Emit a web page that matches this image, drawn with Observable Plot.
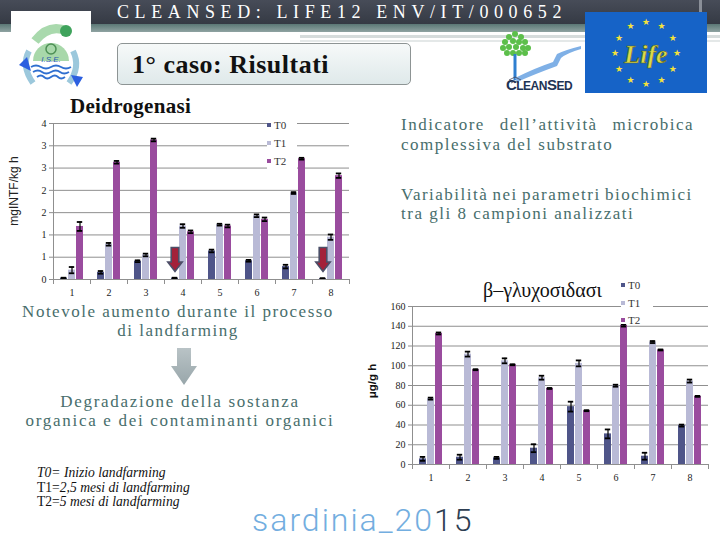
<!DOCTYPE html>
<html><head><meta charset="utf-8">
<script src="https://cdn.jsdelivr.net/npm/d3@7"></script>
<script src="https://cdn.jsdelivr.net/npm/@observablehq/plot@0.6"></script>
<style>
body{margin:0;background:#fff;}
#slide{position:relative;width:720px;height:540px;overflow:hidden;background:#fff;font-family:"Liberation Serif",serif;}
.abs{position:absolute;}
.note{position:absolute;color:#486e6c;font-family:"Liberation Serif",serif;font-size:17px;letter-spacing:1.5px;white-space:nowrap;line-height:19px;}
.leg{position:absolute;background:#fff;font-family:"Liberation Serif",serif;font-size:11px;color:#333;}
.leg div{height:18px;line-height:18px;white-space:nowrap;}
.leg span{display:inline-block;width:4px;height:4px;margin-right:3px;vertical-align:middle;position:relative;top:-1px;}
.rot{position:absolute;transform:translate(-50%,-50%) rotate(-90deg);white-space:nowrap;}
</style></head>
<body><div id="slide">
  <div class="abs" style="left:0;top:0;width:720px;height:24px;background:linear-gradient(#474c58,#353a44);"></div>
  <div class="abs" style="left:0;top:24px;width:720px;height:8px;background:linear-gradient(#5b7876,#8fa3a2);"></div>
  <div class="abs" style="left:300px;top:35px;width:420px;height:3px;background:#d6dcdc;"></div>
  <div class="abs" style="left:300px;top:40px;width:420px;height:2px;background:#e4e8e8;"></div>
  <div class="abs" style="left:699px;top:0;width:3px;height:30px;background:#8a8f98;"></div>
  <div class="abs" style="left:117px;top:1px;color:#fff;font-family:'Liberation Serif',serif;font-size:18px;letter-spacing:5.6px;line-height:22px;white-space:nowrap;">CLEANSED: LIFE12 ENV/IT/000652</div>

  <svg class="abs" style="left:11px;top:11px" width="80" height="80" viewBox="0 0 80 80">
    <rect width="80" height="80" fill="#fff"/>
    <path d="M24 30 Q38 12 56 20" stroke="#a9d9ad" stroke-width="9" fill="none"/>
    <circle cx="55" cy="20" r="6" fill="#3fa35c"/>
    <path d="M22 50 A18 18 0 0 1 58 50 Z" fill="#a8d8aa"/>
    <circle cx="40" cy="38" r="5" fill="none" stroke="#4d8f55" stroke-width="1.5"/>
    <text x="40" y="51" font-size="8" fill="#2a58b0" text-anchor="middle" font-style="italic" font-family="Liberation Sans">I.S.E.</text>
    <path d="M20 56 q5 -3 10 0 t10 0 t10 0 t10 0" stroke="#2f6fd0" fill="none" stroke-width="1.8"/>
    <path d="M22 61 q5 -3 9 0 t9 0 t9 0 t9 0" stroke="#2f6fd0" fill="none" stroke-width="1.8"/>
    <path d="M26 66 q4 -3 7 0 t7 0 t7 0 t7 0" stroke="#2f6fd0" fill="none" stroke-width="1.8"/>
    <path d="M18 40 Q10 55 22 72" stroke="#9cc8dc" stroke-width="6" fill="none"/>
    <path d="M8 54 L16 46 L20 60 Z" fill="#2c5fe0"/>
    <path d="M62 40 Q70 56 58 72" stroke="#9cc8dc" stroke-width="6" fill="none"/>
    <path d="M60 64 L72 66 L66 76 Z" fill="#2c5fe0"/>
  </svg>

  <svg class="abs" style="left:495px;top:28px" width="88" height="66" viewBox="0 0 88 66">
    <g fill="#5cbf4a" id="treeDots"></g>
    <path d="M20 26 L20 52" stroke="#2f7fd0" stroke-width="3"/>
    <path d="M20 50 Q40 40 58 34 L62 26 Q70 22 86 18 L86 21 Q72 25 66 30 L62 38 Q40 46 22 54 Z" fill="#7fb0e6"/>
    <path d="M14 52 l6 -3 l6 3 M16 55 l4 -2 l4 2" stroke="#445" stroke-width="0.8" fill="none"/>
    <text x="44" y="62" font-size="15" font-weight="bold" fill="#1e3354" text-anchor="middle" font-family="Liberation Sans" letter-spacing="-0.5">C<tspan font-size="12">LEAN</tspan>S<tspan font-size="12">ED</tspan></text>
  </svg>

  <svg class="abs" style="left:585px;top:12px" width="122" height="81" viewBox="0 0 122 81">
    <rect width="122" height="81" fill="#1663c7"/>
    <g id="stars" fill="#f4e23a" font-size="9" text-anchor="middle" font-family="DejaVu Sans"></g>
    <text x="61" y="51" font-size="26" font-style="italic" font-weight="bold" fill="#dada4c" stroke="#55601a" stroke-width="0.6" text-anchor="middle" font-family="Liberation Serif">Life</text>
  </svg>

  <div class="abs" style="left:117px;top:43px;width:294px;height:42px;box-sizing:border-box;border:1px solid #8d9494;border-radius:5px;background:linear-gradient(#f6f9f9,#dfe9ea);"></div>
  <div class="abs" style="left:132px;top:48px;font-family:'Liberation Serif',serif;font-weight:bold;font-size:26px;letter-spacing:0.5px;line-height:34px;color:#111;white-space:nowrap;">1° caso: Risultati</div>

  <div class="abs" style="left:70px;top:94px;font-family:'Liberation Serif',serif;font-weight:bold;font-size:21px;letter-spacing:0.3px;line-height:24px;color:#111;white-space:nowrap;">Deidrogenasi</div>

  <div id="chart1" class="abs" style="left:0;top:100px;"></div>
  <div id="chart2" class="abs" style="left:355px;top:270px;"></div>

  <div class="rot" style="left:14px;top:191px;font-family:'Liberation Sans',sans-serif;font-size:12px;color:#222;">mgINTF/kg h</div>
  <div class="rot" style="left:372px;top:381px;font-family:'Liberation Sans',sans-serif;font-size:11.5px;font-weight:bold;color:#111;">μg/g h</div>

  <div class="leg" style="left:267px;top:116px;width:30px;height:56px;">
    <div><span style="background:#4f5589"></span>T0</div>
    <div><span style="background:#b9bad6"></span>T1</div>
    <div><span style="background:#9a4c9e"></span>T2</div>
  </div>
  <div class="abs" style="left:483px;top:278px;font-family:'Liberation Serif',serif;font-size:20px;line-height:24px;color:#111;white-space:nowrap;">β–γλυχοσιδασι</div>
  <div class="leg" style="left:621px;top:277px;width:32px;height:47px;">
    <div style="height:17.5px;line-height:17.5px"><span style="background:#4f5589"></span>T0</div>
    <div style="height:17.5px;line-height:17.5px"><span style="background:#b9bad6"></span>T1</div>
    <div style="height:17.5px;line-height:17.5px"><span style="background:#9a4c9e"></span>T2</div>
  </div>

  <div class="note" style="left:401px;top:115px;width:293px;line-height:20px;">
    <div style="text-align:justify;text-align-last:justify;">Indicatore dell’attività microbica</div>
    <div>complessiva del substrato</div>
  </div>
  <div class="note" style="left:401px;top:185px;width:293px;">
    <div style="word-spacing:-1.5px;">Variabilità nei parametri biochimici</div>
    <div>tra gli 8 campioni analizzati</div>
  </div>
  <div class="note" style="left:0;top:302px;width:356px;text-align:center;">
    <div>Notevole aumento durante il processo</div>
    <div>di landfarming</div>
  </div>
  <svg class="abs" style="left:170px;top:347px" width="28" height="40" viewBox="0 0 28 40">
    <defs><linearGradient id="ga" x1="0" x2="0" y1="0" y2="1"><stop offset="0" stop-color="#b9c3c6"/><stop offset="1" stop-color="#98a6aa"/></linearGradient></defs>
    <path d="M7 1 L21 1 L21 19 L27 19 L14 38 L1 19 L7 19 Z" fill="url(#ga)"/>
  </svg>
  <div class="note" style="left:0;top:392px;width:360px;text-align:center;letter-spacing:1.7px;">
    <div>Degradazione della sostanza</div>
    <div>organica e dei contaminanti organici</div>
  </div>
  <div class="abs" style="left:37px;top:466px;font-family:'Liberation Serif',serif;font-size:13.6px;line-height:14.5px;color:#111;white-space:nowrap;">
    <div><i>T0= Inizio landfarming</i></div>
    <div>T1=<i>2,5 mesi di landfarming</i></div>
    <div>T2=<i>5 mesi di landfarming</i></div>
  </div>
  <div class="abs" style="left:252px;top:500px;font-family:Roboto,sans-serif;font-weight:300;font-size:32px;line-height:40px;letter-spacing:2px;white-space:nowrap;color:#73aee0;">sardinia_20<span style="color:#2d3e52">15</span></div>
</div>
<script>
// ---- data ----
const samples = [1, 2, 3, 4, 5, 6, 7, 8];
const series = ["T0", "T1", "T2"];
const seriesColors = ["#4f5589", "#b9bad6", "#9a4c9e"];

// Deidrogenasi (mgINTF/kg h)
const dhT0 = [0.03, 0.16, 0.41, 0.03, 0.64, 0.42, 0.29, 0.02];
const dhT1 = [0.21, 0.79, 0.55, 1.20, 1.23, 1.43, 1.94, 0.95];
const dhT2 = [1.19, 2.63, 3.13, 1.07, 1.20, 1.35, 2.71, 2.33];
const dhErrT0 = [0.01, 0.03, 0.02, 0.01, 0.03, 0.02, 0.04, 0.01];
const dhErrT1 = [0.07, 0.03, 0.03, 0.04, 0.02, 0.03, 0.02, 0.06];
const dhErrT2 = [0.10, 0.03, 0.03, 0.03, 0.03, 0.04, 0.02, 0.05];
const dhTicks = [0, 0.5, 1, 1.5, 2, 2.5, 3, 3.5];
const dhTickLabels = ["0", "1", "1", "2", "2", "3", "3", "4"];
const dhArrowSamples = [4, 8];
const dhArrowLevel = 0.45;

// beta-glucosidasi (μg/g h)
const bgT0 = [5.7, 7.4, 6.7, 16.5, 58.6, 31.0, 8.4, 39.4];
const bgT1 = [66.7, 111.8, 105.0, 87.9, 102.4, 79.8, 124.0, 84.5];
const bgT2 = [132.7, 96.0, 101.0, 77.0, 54.5, 140.7, 116.0, 69.0];
const bgErrT0 = [2, 2.5, 1, 4, 5, 4.5, 3.5, 1];
const bgErrT1 = [1, 2.5, 2.5, 2, 3, 1, 1, 1.5];
const bgErrT2 = [1, 0.5, 0.5, 0.5, 0.5, 1, 0.5, 0.5];
const bgTicks = [0, 20, 40, 60, 80, 100, 120, 140, 160];
const bgTickLabels = ["0", "20", "40", "60", "80", "100", "120", "140", "160"];

function rowsOf(vals, errs) {
  return samples.flatMap((s, i) => series.map((t, k) => ({sample: s, time: t, value: vals[k][i], err: errs[k][i]})));
}
const dhRows = rowsOf([dhT0, dhT1, dhT2], [dhErrT0, dhErrT1, dhErrT2]);
const bgRows = rowsOf([bgT0, bgT1, bgT2], [bgErrT0, bgErrT1, bgErrT2]);

const arrowSymbol = {
  draw(ctx) {
    ctx.moveTo(-3.8, -12); ctx.lineTo(3.8, -12); ctx.lineTo(3.8, 2.5);
    ctx.lineTo(7.2, 2.5); ctx.lineTo(0, 12); ctx.lineTo(-7.2, 2.5);
    ctx.lineTo(-3.8, 2.5); ctx.closePath();
  }
};

const gridColor = "#8f8f8f";
function groupedChart({rows, ticks, tickLabels, yMax, width, height, margins, extra = []}) {
  const ph = height - margins.marginTop - margins.marginBottom;
  return Plot.plot({
    width, height, ...margins,
    style: {fontFamily: "Liberation Serif", fontSize: "10px", color: "#222", background: "transparent", overflow: "visible"},
    fx: {domain: samples, padding: 0, label: null, axis: null},
    x: {domain: series, paddingInner: 0.12, paddingOuter: 0.8, axis: null},
    y: {domain: [0, yMax], axis: null},
    color: {domain: series, range: seriesColors},
    marks: [
      Plot.gridY(ticks, {stroke: gridColor, strokeOpacity: 1, strokeWidth: 1}),
      Plot.frame({anchor: "left", stroke: gridColor, insetTop: ph, insetBottom: -4}),
      Plot.frame({anchor: "right", stroke: gridColor, insetTop: ph, insetBottom: -4}),
      Plot.frame({anchor: "left", facet: "super", stroke: gridColor}),
      Plot.axisY(ticks, {tickFormat: d => tickLabels[ticks.indexOf(d)], tickSize: 4, tickPadding: 3, stroke: gridColor, fill: "#222", label: null}),
      Plot.axisFx({anchor: "bottom", tickSize: 0, tickPadding: 9, fill: "#222", label: null}),
      Plot.barY(rows, {fx: "sample", x: "time", y: "value", fill: "time"}),
      Plot.ruleX(rows, {fx: "sample", x: "time", y1: d => d.value - d.err, y2: d => d.value + d.err, stroke: "#000", strokeWidth: 1.2}),
      Plot.tickY(rows, {fx: "sample", x: "time", y: d => d.value + d.err, stroke: "#000", strokeWidth: 1.8, insetLeft: 0.8, insetRight: 0.8}),
      Plot.tickY(rows, {fx: "sample", x: "time", y: d => d.value - d.err, stroke: "#000", strokeWidth: 1.8, insetLeft: 0.8, insetRight: 0.8}),
      Plot.ruleY([0], {stroke: gridColor}),
      ...extra
    ]
  });
}

document.getElementById("chart1").append(groupedChart({
  rows: dhRows, ticks: dhTicks, tickLabels: dhTickLabels, yMax: 3.5,
  width: 360, height: 200,
  margins: {marginLeft: 52, marginRight: 11, marginTop: 23, marginBottom: 21},
  extra: [
    Plot.dot(dhArrowSamples, {fx: d => d, x: () => "T0", y: () => dhArrowLevel, r: 5, symbol: arrowSymbol, fill: "#a3213a", stroke: "#4b4f68", strokeWidth: 1.6})
  ]
}));

document.getElementById("chart2").append(groupedChart({
  rows: bgRows, ticks: bgTicks, tickLabels: bgTickLabels, yMax: 160,
  width: 365, height: 220,
  margins: {marginLeft: 56, marginRight: 12, marginTop: 36, marginBottom: 26}
}));

// decorative logos
const stars = document.getElementById("stars");
for (let i = 0; i < 12; i++) {
  const a = i / 12 * 2 * Math.PI;
  const t = document.createElementNS("http://www.w3.org/2000/svg", "text");
  t.setAttribute("x", 61 + 31 * Math.sin(a));
  t.setAttribute("y", 44 - 31 * Math.cos(a));
  t.textContent = "★";
  stars.append(t);
}
const tree = document.getElementById("treeDots");
[[20,6],[14,9],[26,9],[10,14],[18,13],[24,14],[30,14],[8,20],[14,19],[21,19],[28,20],[33,20],[12,25],[18,25],[24,25],[30,25]].forEach(([x,y]) => {
  const c = document.createElementNS("http://www.w3.org/2000/svg", "circle");
  c.setAttribute("cx", x); c.setAttribute("cy", y); c.setAttribute("r", 3);
  tree.append(c);
});
</script>
</body></html>
